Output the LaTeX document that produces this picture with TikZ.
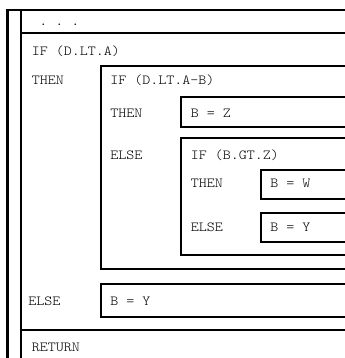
\documentclass[tikz,border=0pt]{standalone}
\usepackage{fontspec}
\setmonofont[FakeStretch=1.1]{Latin Modern Mono Light}
\begin{document}
\begin{tikzpicture}[x=0.75pt,y=-0.75pt,
  frame/.style={line width=1.5pt,black},
  code/.style={anchor=base west,inner sep=0pt,font=\ttfamily\fontsize{10.4}{12}\selectfont}]
\clip (0,0) rectangle (345,358);
\fill[white] (0,0) rectangle (345,358);
% outer frame
\draw[frame] (7.5,370) -- (7.5,10) -- (360,10);
\draw[frame] (20.5,370) -- (20.5,10);
\draw[frame] (20.5,33) -- (360,33);
\draw[frame] (20.5,330) -- (360,330);
% boxes (open to the right)
\draw[frame] (360,66) -- (101,66) -- (101,269) -- (360,269);
\draw[frame] (360,97) -- (181,97) -- (181,127) -- (360,127);
\draw[frame] (360,138) -- (181,138) -- (181,255) -- (360,255);
\draw[frame] (360,170) -- (260.5,170) -- (260.5,199) -- (360,199);
\draw[frame] (360,213) -- (260.5,213) -- (260.5,242) -- (360,242);
\draw[frame] (360,284) -- (101,284) -- (101,317) -- (360,317);
% texts
\node[code] (dots) at (39,25) {. . .};
\node[code] (if1) at (31.5,55) {IF (D.LT.A)};
\node[code] (then1) at (31.5,84.5) {THEN};
\node[code] (if2) at (110,84.5) {IF (D.LT.A-B)};
\node[code] (then2) at (110,117) {THEN};
\node[code] (bz) at (190.5,117) {B = Z};
\node[code] (else2) at (110,159) {ELSE};
\node[code] (if3) at (190.5,159) {IF (B.GT.Z)};
\node[code] (then3) at (190.5,187) {THEN};
\node[code] (bw) at (270,187) {B = W};
\node[code] (else3) at (190.5,231) {ELSE};
\node[code] (by1) at (270,231) {B = Y};
\node[code] (else1) at (28,305) {ELSE};
\node[code] (by2) at (110,305) {B = Y};
\node[code] (ret) at (31.5,351) {RETURN};
\end{tikzpicture}
\end{document}
